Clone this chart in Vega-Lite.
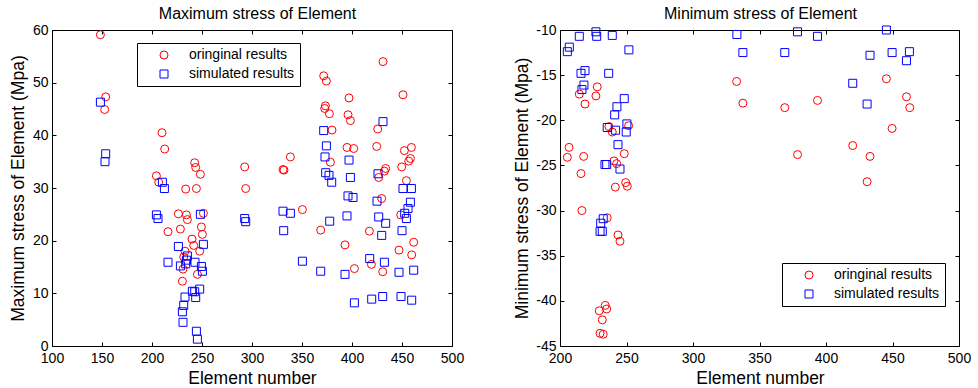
{
  "$schema": "https://vega.github.io/schema/vega-lite/v6.json",
  "autosize": {"type": "pad"},
  "padding": {"left": 9, "top": 5, "right": 18, "bottom": 1},
  "background": "white",
  "config": {
    "font": "Liberation Sans",
    "locale": {"number": {"decimal": ".", "thousands": ",", "grouping": [3], "currency": ["$", ""], "minus": "-"}},
    "view": {"stroke": null},
    "axis": {
      "grid": false,
      "domainColor": "#000000",
      "domainWidth": 1,
      "tickColor": "#000000",
      "tickSize": -4,
      "tickWidth": 1,
      "labelColor": "#000000",
      "labelFont": "Liberation Sans",
      "labelFontSize": 14,
      "labelFlush": false,
      "labelOverlap": false,
      "titleColor": "#000000",
      "titleFont": "Liberation Sans",
      "titleFontSize": 17.5,
      "titleFontWeight": "normal"
    },
    "legend": {
      "strokeColor": "#000000",
      "fillColor": "#ffffff",
      "padding": 5,
      "rowPadding": 5,
      "symbolOffset": 15,
      "labelOffset": 18,
      "labelFont": "Liberation Sans",
      "labelFontSize": 14,
      "labelColor": "#000000",
      "symbolStrokeWidth": 1,
      "symbolSize": 64,
      "title": null
    }
  },
  "datasets": {
    "maxstress": [
      {"x": 148.4, "y": 59.1, "s": "oringinal results"},
      {"x": 153.7, "y": 47.3, "s": "oringinal results"},
      {"x": 152.7, "y": 44.9, "s": "oringinal results"},
      {"x": 210, "y": 40.5, "s": "oringinal results"},
      {"x": 212.7, "y": 37.4, "s": "oringinal results"},
      {"x": 242.7, "y": 34.8, "s": "oringinal results"},
      {"x": 243.7, "y": 33.9, "s": "oringinal results"},
      {"x": 248.4, "y": 32.6, "s": "oringinal results"},
      {"x": 292.7, "y": 34.0, "s": "oringinal results"},
      {"x": 204.4, "y": 32.3, "s": "oringinal results"},
      {"x": 206.7, "y": 31.1, "s": "oringinal results"},
      {"x": 233.7, "y": 29.8, "s": "oringinal results"},
      {"x": 244.4, "y": 29.9, "s": "oringinal results"},
      {"x": 293.7, "y": 29.9, "s": "oringinal results"},
      {"x": 226.4, "y": 25.1, "s": "oringinal results"},
      {"x": 234.4, "y": 24.9, "s": "oringinal results"},
      {"x": 235.4, "y": 24.0, "s": "oringinal results"},
      {"x": 251.4, "y": 25.2, "s": "oringinal results"},
      {"x": 216, "y": 21.7, "s": "oringinal results"},
      {"x": 228.4, "y": 22.2, "s": "oringinal results"},
      {"x": 249.4, "y": 22.6, "s": "oringinal results"},
      {"x": 250.4, "y": 21.2, "s": "oringinal results"},
      {"x": 240, "y": 20.3, "s": "oringinal results"},
      {"x": 241.7, "y": 19.1, "s": "oringinal results"},
      {"x": 233, "y": 18.0, "s": "oringinal results"},
      {"x": 247.7, "y": 18.0, "s": "oringinal results"},
      {"x": 231.7, "y": 16.9, "s": "oringinal results"},
      {"x": 231, "y": 14.6, "s": "oringinal results"},
      {"x": 245.4, "y": 13.6, "s": "oringinal results"},
      {"x": 230.4, "y": 12.3, "s": "oringinal results"},
      {"x": 431, "y": 54.0, "s": "oringinal results"},
      {"x": 371.7, "y": 51.3, "s": "oringinal results"},
      {"x": 374.4, "y": 50.3, "s": "oringinal results"},
      {"x": 397, "y": 47.1, "s": "oringinal results"},
      {"x": 451, "y": 47.7, "s": "oringinal results"},
      {"x": 373.4, "y": 45.6, "s": "oringinal results"},
      {"x": 372.7, "y": 45.1, "s": "oringinal results"},
      {"x": 377.4, "y": 44.1, "s": "oringinal results"},
      {"x": 396, "y": 43.9, "s": "oringinal results"},
      {"x": 398.4, "y": 42.8, "s": "oringinal results"},
      {"x": 425.7, "y": 41.2, "s": "oringinal results"},
      {"x": 380, "y": 41.0, "s": "oringinal results"},
      {"x": 395, "y": 37.7, "s": "oringinal results"},
      {"x": 401.7, "y": 37.5, "s": "oringinal results"},
      {"x": 424.7, "y": 37.9, "s": "oringinal results"},
      {"x": 452.4, "y": 37.1, "s": "oringinal results"},
      {"x": 459.4, "y": 37.7, "s": "oringinal results"},
      {"x": 338.4, "y": 35.9, "s": "oringinal results"},
      {"x": 458.4, "y": 35.6, "s": "oringinal results"},
      {"x": 456.7, "y": 35.1, "s": "oringinal results"},
      {"x": 331, "y": 33.5, "s": "oringinal results"},
      {"x": 332, "y": 33.4, "s": "oringinal results"},
      {"x": 378.4, "y": 34.9, "s": "oringinal results"},
      {"x": 433.7, "y": 33.7, "s": "oringinal results"},
      {"x": 432.4, "y": 33.2, "s": "oringinal results"},
      {"x": 449.7, "y": 34.0, "s": "oringinal results"},
      {"x": 426.7, "y": 32.0, "s": "oringinal results"},
      {"x": 454.4, "y": 31.4, "s": "oringinal results"},
      {"x": 429.7, "y": 28.0, "s": "oringinal results"},
      {"x": 350.4, "y": 25.9, "s": "oringinal results"},
      {"x": 448.7, "y": 24.9, "s": "oringinal results"},
      {"x": 368.7, "y": 22.0, "s": "oringinal results"},
      {"x": 417.4, "y": 21.8, "s": "oringinal results"},
      {"x": 393, "y": 19.2, "s": "oringinal results"},
      {"x": 461.7, "y": 19.7, "s": "oringinal results"},
      {"x": 447, "y": 18.2, "s": "oringinal results"},
      {"x": 459.7, "y": 17.3, "s": "oringinal results"},
      {"x": 419.4, "y": 15.5, "s": "oringinal results"},
      {"x": 402.4, "y": 14.7, "s": "oringinal results"},
      {"x": 430.7, "y": 14.1, "s": "oringinal results"},
      {"x": 148.4, "y": 46.3, "s": "simulated results"},
      {"x": 153.7, "y": 36.5, "s": "simulated results"},
      {"x": 153, "y": 35.0, "s": "simulated results"},
      {"x": 210.4, "y": 31.1, "s": "simulated results"},
      {"x": 212.4, "y": 29.9, "s": "simulated results"},
      {"x": 204.4, "y": 24.9, "s": "simulated results"},
      {"x": 206, "y": 24.2, "s": "simulated results"},
      {"x": 248.4, "y": 25.0, "s": "simulated results"},
      {"x": 292.7, "y": 24.2, "s": "simulated results"},
      {"x": 293.7, "y": 23.6, "s": "simulated results"},
      {"x": 226.4, "y": 18.9, "s": "simulated results"},
      {"x": 251.4, "y": 19.3, "s": "simulated results"},
      {"x": 235.4, "y": 17.1, "s": "simulated results"},
      {"x": 234.4, "y": 16.3, "s": "simulated results"},
      {"x": 216, "y": 15.9, "s": "simulated results"},
      {"x": 243, "y": 15.9, "s": "simulated results"},
      {"x": 233.7, "y": 15.6, "s": "simulated results"},
      {"x": 228.4, "y": 15.2, "s": "simulated results"},
      {"x": 249.4, "y": 15.1, "s": "simulated results"},
      {"x": 250.4, "y": 14.2, "s": "simulated results"},
      {"x": 247.7, "y": 10.8, "s": "simulated results"},
      {"x": 240.4, "y": 10.4, "s": "simulated results"},
      {"x": 242.7, "y": 10.3, "s": "simulated results"},
      {"x": 243.7, "y": 9.2, "s": "simulated results"},
      {"x": 233, "y": 9.3, "s": "simulated results"},
      {"x": 231.7, "y": 7.7, "s": "simulated results"},
      {"x": 230.4, "y": 6.5, "s": "simulated results"},
      {"x": 231, "y": 4.5, "s": "simulated results"},
      {"x": 244.4, "y": 2.8, "s": "simulated results"},
      {"x": 245.4, "y": 1.3, "s": "simulated results"},
      {"x": 431, "y": 42.6, "s": "simulated results"},
      {"x": 371.7, "y": 40.9, "s": "simulated results"},
      {"x": 374.4, "y": 38.0, "s": "simulated results"},
      {"x": 373, "y": 35.9, "s": "simulated results"},
      {"x": 397, "y": 35.3, "s": "simulated results"},
      {"x": 373.7, "y": 32.9, "s": "simulated results"},
      {"x": 377, "y": 32.4, "s": "simulated results"},
      {"x": 379.7, "y": 31.1, "s": "simulated results"},
      {"x": 398.4, "y": 32.0, "s": "simulated results"},
      {"x": 426, "y": 32.7, "s": "simulated results"},
      {"x": 451, "y": 29.9, "s": "simulated results"},
      {"x": 459.4, "y": 29.9, "s": "simulated results"},
      {"x": 396, "y": 28.5, "s": "simulated results"},
      {"x": 401, "y": 28.2, "s": "simulated results"},
      {"x": 425, "y": 27.5, "s": "simulated results"},
      {"x": 458.4, "y": 27.3, "s": "simulated results"},
      {"x": 331, "y": 25.6, "s": "simulated results"},
      {"x": 338.4, "y": 25.2, "s": "simulated results"},
      {"x": 456, "y": 26.1, "s": "simulated results"},
      {"x": 452.7, "y": 25.2, "s": "simulated results"},
      {"x": 395, "y": 24.7, "s": "simulated results"},
      {"x": 426.7, "y": 24.5, "s": "simulated results"},
      {"x": 454.4, "y": 24.2, "s": "simulated results"},
      {"x": 377.7, "y": 23.7, "s": "simulated results"},
      {"x": 433.7, "y": 23.3, "s": "simulated results"},
      {"x": 331.7, "y": 21.9, "s": "simulated results"},
      {"x": 450, "y": 21.9, "s": "simulated results"},
      {"x": 429.7, "y": 21.0, "s": "simulated results"},
      {"x": 417.7, "y": 16.6, "s": "simulated results"},
      {"x": 432.4, "y": 15.9, "s": "simulated results"},
      {"x": 350.4, "y": 16.1, "s": "simulated results"},
      {"x": 368.7, "y": 14.2, "s": "simulated results"},
      {"x": 393, "y": 13.6, "s": "simulated results"},
      {"x": 447, "y": 14.0, "s": "simulated results"},
      {"x": 461.7, "y": 14.4, "s": "simulated results"},
      {"x": 402.4, "y": 8.2, "s": "simulated results"},
      {"x": 419.7, "y": 8.9, "s": "simulated results"},
      {"x": 430.7, "y": 9.4, "s": "simulated results"},
      {"x": 449, "y": 9.4, "s": "simulated results"},
      {"x": 459.7, "y": 8.7, "s": "simulated results"}
    ],
    "minstress": [
      {"x": 214.5, "y": -17.1, "s": "oringinal results"},
      {"x": 228, "y": -16.3, "s": "oringinal results"},
      {"x": 227, "y": -17.3, "s": "oringinal results"},
      {"x": 218.8, "y": -18.2, "s": "oringinal results"},
      {"x": 251.6, "y": -20.6, "s": "oringinal results"},
      {"x": 236.8, "y": -20.7, "s": "oringinal results"},
      {"x": 239.3, "y": -21.3, "s": "oringinal results"},
      {"x": 206.8, "y": -23.0, "s": "oringinal results"},
      {"x": 205.5, "y": -24.1, "s": "oringinal results"},
      {"x": 217.8, "y": -24.0, "s": "oringinal results"},
      {"x": 248.3, "y": -23.7, "s": "oringinal results"},
      {"x": 240.6, "y": -24.5, "s": "oringinal results"},
      {"x": 242.6, "y": -24.8, "s": "oringinal results"},
      {"x": 215.8, "y": -25.9, "s": "oringinal results"},
      {"x": 249.4, "y": -26.9, "s": "oringinal results"},
      {"x": 250.6, "y": -27.3, "s": "oringinal results"},
      {"x": 241.6, "y": -27.4, "s": "oringinal results"},
      {"x": 216.5, "y": -30.0, "s": "oringinal results"},
      {"x": 235.5, "y": -30.8, "s": "oringinal results"},
      {"x": 243.6, "y": -32.7, "s": "oringinal results"},
      {"x": 245.1, "y": -33.4, "s": "oringinal results"},
      {"x": 234, "y": -40.5, "s": "oringinal results"},
      {"x": 235.1, "y": -40.9, "s": "oringinal results"},
      {"x": 229.5, "y": -41.1, "s": "oringinal results"},
      {"x": 231.8, "y": -42.1, "s": "oringinal results"},
      {"x": 230.1, "y": -43.6, "s": "oringinal results"},
      {"x": 232.5, "y": -43.7, "s": "oringinal results"},
      {"x": 332.8, "y": -15.7, "s": "oringinal results"},
      {"x": 337.5, "y": -18.1, "s": "oringinal results"},
      {"x": 445.4, "y": -15.4, "s": "oringinal results"},
      {"x": 393.6, "y": -17.8, "s": "oringinal results"},
      {"x": 369, "y": -18.6, "s": "oringinal results"},
      {"x": 460.5, "y": -17.4, "s": "oringinal results"},
      {"x": 463, "y": -18.6, "s": "oringinal results"},
      {"x": 449.7, "y": -20.9, "s": "oringinal results"},
      {"x": 378.6, "y": -23.8, "s": "oringinal results"},
      {"x": 420.1, "y": -22.8, "s": "oringinal results"},
      {"x": 433.1, "y": -24.0, "s": "oringinal results"},
      {"x": 430.9, "y": -26.8, "s": "oringinal results"},
      {"x": 227, "y": -10.2, "s": "simulated results"},
      {"x": 227.6, "y": -10.7, "s": "simulated results"},
      {"x": 214.5, "y": -10.7, "s": "simulated results"},
      {"x": 239.3, "y": -10.6, "s": "simulated results"},
      {"x": 207, "y": -11.9, "s": "simulated results"},
      {"x": 205.5, "y": -12.4, "s": "simulated results"},
      {"x": 251.8, "y": -12.2, "s": "simulated results"},
      {"x": 215.8, "y": -14.8, "s": "simulated results"},
      {"x": 218.8, "y": -14.5, "s": "simulated results"},
      {"x": 236.6, "y": -14.8, "s": "simulated results"},
      {"x": 218, "y": -16.1, "s": "simulated results"},
      {"x": 216.5, "y": -16.6, "s": "simulated results"},
      {"x": 248.3, "y": -17.6, "s": "simulated results"},
      {"x": 242.8, "y": -18.5, "s": "simulated results"},
      {"x": 241.1, "y": -19.4, "s": "simulated results"},
      {"x": 250.3, "y": -20.4, "s": "simulated results"},
      {"x": 249.8, "y": -21.3, "s": "simulated results"},
      {"x": 235.5, "y": -20.8, "s": "simulated results"},
      {"x": 241.8, "y": -21.1, "s": "simulated results"},
      {"x": 243.6, "y": -22.7, "s": "simulated results"},
      {"x": 233.8, "y": -24.9, "s": "simulated results"},
      {"x": 235.1, "y": -24.9, "s": "simulated results"},
      {"x": 245.1, "y": -25.4, "s": "simulated results"},
      {"x": 232.5, "y": -30.9, "s": "simulated results"},
      {"x": 230.6, "y": -31.4, "s": "simulated results"},
      {"x": 230.1, "y": -32.3, "s": "simulated results"},
      {"x": 231.8, "y": -32.3, "s": "simulated results"},
      {"x": 333, "y": -10.5, "s": "simulated results"},
      {"x": 337.5, "y": -12.5, "s": "simulated results"},
      {"x": 378.6, "y": -10.2, "s": "simulated results"},
      {"x": 393.6, "y": -10.7, "s": "simulated results"},
      {"x": 445.4, "y": -10.0, "s": "simulated results"},
      {"x": 369, "y": -12.5, "s": "simulated results"},
      {"x": 433.1, "y": -12.8, "s": "simulated results"},
      {"x": 449.7, "y": -12.5, "s": "simulated results"},
      {"x": 462.7, "y": -12.4, "s": "simulated results"},
      {"x": 460.5, "y": -13.4, "s": "simulated results"},
      {"x": 420.1, "y": -15.9, "s": "simulated results"},
      {"x": 430.9, "y": -18.2, "s": "simulated results"}
    ]
  },
  "hconcat": [
    {
      "width": 400,
      "height": 316,
      "data": {"name": "maxstress"},
      "layer": [
        {
          "mark": {"type": "point", "filled": false, "size": 64, "strokeWidth": 1, "opacity": 1},
          "encoding": {
            "x": {"field": "x", "type": "quantitative", "scale": {"domain": [100, 500], "nice": false, "zero": false},
                  "axis": {"orient": "bottom", "values": [100, 150, 200, 250, 300, 350, 400, 450, 500], "labelPadding": 9, "title": "Element number", "titleX": 200, "titleY": 32, "titleBaseline": "middle", "titleAnchor": "middle"}},
            "y": {"field": "y", "type": "quantitative", "scale": {"domain": [0, 60], "nice": false, "zero": false},
                  "axis": {"orient": "left", "values": [0, 10, 20, 30, 40, 50, 60], "labelPadding": 8, "title": "Maximum stress of Element (Mpa)", "titleX": -34, "titleY": 158, "titleBaseline": "middle", "titleAnchor": "middle", "titleAngle": -90}},
            "color": {"field": "s", "type": "nominal", "scale": {"domain": ["oringinal results", "simulated results"], "range": ["#ff0000", "#0000ff"]},
                      "legend": {"orient": "none", "legendX": 85, "legendY": 13, "title": null}},
            "shape": {"field": "s", "type": "nominal", "scale": {"domain": ["oringinal results", "simulated results"], "range": ["circle", "square"]},
                      "legend": {"orient": "none", "legendX": 85, "legendY": 13, "title": null}}
          }
        },
        {
          "mark": {"type": "point", "opacity": 0},
          "encoding": {
            "x": {"field": "x", "type": "quantitative", "axis": {"orient": "top", "values": [100, 150, 200, 250, 300, 350, 400, 450, 500], "labels": false, "title": "Maximum stress of Element", "titleFontSize": 16, "titleX": 205, "titleY": -17, "titleBaseline": "middle", "titleAnchor": "middle"}},
            "y": {"field": "y", "type": "quantitative", "axis": {"orient": "right", "values": [0, 10, 20, 30, 40, 50, 60], "labels": false, "title": null}}
          }
        }
      ],
      "resolve": {"axis": {"x": "independent", "y": "independent"}}
    },
    {
      "width": 399,
      "height": 316,
      "data": {"name": "minstress"},
      "layer": [
        {
          "mark": {"type": "point", "filled": false, "size": 64, "strokeWidth": 1, "opacity": 1},
          "encoding": {
            "x": {"field": "x", "type": "quantitative", "scale": {"domain": [200, 500], "nice": false, "zero": false},
                  "axis": {"orient": "bottom", "values": [200, 250, 300, 350, 400, 450, 500], "labelPadding": 9, "title": "Element number", "titleX": 200, "titleY": 32, "titleBaseline": "middle", "titleAnchor": "middle"}},
            "y": {"field": "y", "type": "quantitative", "scale": {"domain": [-45, -10], "nice": false, "zero": false},
                  "axis": {"orient": "left", "values": [-45, -40, -35, -30, -25, -20, -15, -10], "labelPadding": 8, "title": "Minimum stress of Element (Mpa)", "titleX": -38, "titleY": 158, "titleBaseline": "middle", "titleAnchor": "middle", "titleAngle": -90}},
            "color": {"field": "s", "type": "nominal", "scale": {"domain": ["oringinal results", "simulated results"], "range": ["#ff0000", "#0000ff"]},
                      "legend": {"orient": "none", "legendX": 222, "legendY": 233, "title": null}},
            "shape": {"field": "s", "type": "nominal", "scale": {"domain": ["oringinal results", "simulated results"], "range": ["circle", "square"]},
                      "legend": {"orient": "none", "legendX": 222, "legendY": 233, "title": null}}
          }
        },
        {
          "mark": {"type": "point", "opacity": 0},
          "encoding": {
            "x": {"field": "x", "type": "quantitative", "axis": {"orient": "top", "values": [200, 250, 300, 350, 400, 450, 500], "labels": false, "title": "Minimum stress of Element", "titleFontSize": 16, "titleX": 200, "titleY": -17, "titleBaseline": "middle", "titleAnchor": "middle"}},
            "y": {"field": "y", "type": "quantitative", "axis": {"orient": "right", "values": [-45, -40, -35, -30, -25, -20, -15, -10], "labels": false, "title": null}}
          }
        }
      ],
      "resolve": {"axis": {"x": "independent", "y": "independent"}}
    }
  ],
  "spacing": 108,
  "bounds": "flush",
  "resolve": {"legend": {"color": "independent", "shape": "independent"}, "scale": {"color": "independent", "shape": "independent"}}
}
